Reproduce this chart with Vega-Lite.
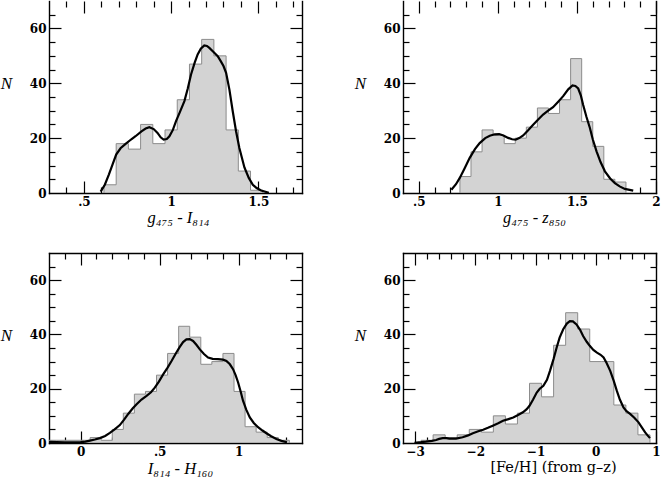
{
  "$schema": "https://vega.github.io/schema/vega-lite/v6.json",
  "padding": {"left": 0, "top": 0, "right": 0, "bottom": 0},
  "background": "white",
  "bounds": "flush",
  "columns": 2,
  "spacing": {"row": 60, "column": 101},
  "datasets": {
    "h1": [
      {"lo": 0.615, "hi": 0.685, "n": 3}, {"lo": 0.685, "hi": 0.755, "n": 18}, {"lo": 0.755, "hi": 0.825, "n": 16},
      {"lo": 0.825, "hi": 0.895, "n": 25}, {"lo": 0.895, "hi": 0.965, "n": 18}, {"lo": 0.965, "hi": 1.035, "n": 23},
      {"lo": 1.035, "hi": 1.105, "n": 34}, {"lo": 1.105, "hi": 1.175, "n": 47}, {"lo": 1.175, "hi": 1.245, "n": 56},
      {"lo": 1.245, "hi": 1.315, "n": 50}, {"lo": 1.315, "hi": 1.385, "n": 23}, {"lo": 1.385, "hi": 1.455, "n": 8},
      {"lo": 1.455, "hi": 1.525, "n": 1}
    ],
    "h2": [
      {"lo": 0.76, "hi": 0.83, "n": 6}, {"lo": 0.83, "hi": 0.9, "n": 15}, {"lo": 0.9, "hi": 0.97, "n": 23},
      {"lo": 0.97, "hi": 1.04, "n": 21}, {"lo": 1.04, "hi": 1.11, "n": 18}, {"lo": 1.11, "hi": 1.18, "n": 20},
      {"lo": 1.18, "hi": 1.25, "n": 24}, {"lo": 1.25, "hi": 1.32, "n": 31}, {"lo": 1.32, "hi": 1.39, "n": 29},
      {"lo": 1.39, "hi": 1.46, "n": 34}, {"lo": 1.46, "hi": 1.53, "n": 49}, {"lo": 1.53, "hi": 1.6, "n": 26},
      {"lo": 1.6, "hi": 1.67, "n": 17}, {"lo": 1.67, "hi": 1.74, "n": 5}, {"lo": 1.74, "hi": 1.81, "n": 4}
    ],
    "h3": [
      {"lo": -0.22, "hi": -0.15, "n": 1}, {"lo": -0.15, "hi": -0.08, "n": 1}, {"lo": -0.08, "hi": -0.01, "n": 1},
      {"lo": -0.01, "hi": 0.06, "n": 1}, {"lo": 0.06, "hi": 0.13, "n": 2}, {"lo": 0.13, "hi": 0.2, "n": 1},
      {"lo": 0.2, "hi": 0.27, "n": 5}, {"lo": 0.27, "hi": 0.34, "n": 11}, {"lo": 0.34, "hi": 0.41, "n": 18},
      {"lo": 0.41, "hi": 0.48, "n": 19}, {"lo": 0.48, "hi": 0.55, "n": 25}, {"lo": 0.55, "hi": 0.62, "n": 33},
      {"lo": 0.62, "hi": 0.69, "n": 43}, {"lo": 0.69, "hi": 0.76, "n": 39}, {"lo": 0.76, "hi": 0.83, "n": 29},
      {"lo": 0.83, "hi": 0.9, "n": 30}, {"lo": 0.9, "hi": 0.97, "n": 33}, {"lo": 0.97, "hi": 1.04, "n": 19},
      {"lo": 1.04, "hi": 1.11, "n": 6}, {"lo": 1.11, "hi": 1.18, "n": 4}, {"lo": 1.18, "hi": 1.25, "n": 2},
      {"lo": 1.25, "hi": 1.32, "n": 1}
    ],
    "h4": [
      {"lo": -2.9, "hi": -2.7, "n": 1}, {"lo": -2.7, "hi": -2.5, "n": 3}, {"lo": -2.5, "hi": -2.3, "n": 2},
      {"lo": -2.3, "hi": -2.1, "n": 3}, {"lo": -2.1, "hi": -1.9, "n": 5}, {"lo": -1.9, "hi": -1.7, "n": 4},
      {"lo": -1.7, "hi": -1.5, "n": 10}, {"lo": -1.5, "hi": -1.3, "n": 7}, {"lo": -1.3, "hi": -1.1, "n": 11},
      {"lo": -1.1, "hi": -0.9, "n": 22}, {"lo": -0.9, "hi": -0.7, "n": 17}, {"lo": -0.7, "hi": -0.5, "n": 36},
      {"lo": -0.5, "hi": -0.3, "n": 48}, {"lo": -0.3, "hi": -0.1, "n": 42}, {"lo": -0.1, "hi": 0.1, "n": 30},
      {"lo": 0.1, "hi": 0.3, "n": 30}, {"lo": 0.3, "hi": 0.5, "n": 14}, {"lo": 0.5, "hi": 0.7, "n": 11},
      {"lo": 0.7, "hi": 0.9, "n": 3}
    ],
    "k1": [
      {"x": 0.596, "y": 0.5}, {"x": 0.62, "y": 3}, {"x": 0.643, "y": 6.7}, {"x": 0.665, "y": 10.5}, {"x": 0.685, "y": 14},
      {"x": 0.71, "y": 16.3}, {"x": 0.739, "y": 17.9}, {"x": 0.77, "y": 19.5}, {"x": 0.796, "y": 20.7}, {"x": 0.83, "y": 22.5},
      {"x": 0.854, "y": 23.5}, {"x": 0.875, "y": 24}, {"x": 0.9, "y": 23.3}, {"x": 0.922, "y": 21.9}, {"x": 0.94, "y": 20.3},
      {"x": 0.957, "y": 19.5}, {"x": 0.975, "y": 19.7}, {"x": 0.99, "y": 20.7}, {"x": 1.01, "y": 23}, {"x": 1.028, "y": 26.2},
      {"x": 1.05, "y": 29.5}, {"x": 1.076, "y": 33.5}, {"x": 1.095, "y": 38}, {"x": 1.114, "y": 43.2}, {"x": 1.135, "y": 47.5},
      {"x": 1.152, "y": 50.5}, {"x": 1.17, "y": 52.6}, {"x": 1.19, "y": 53.8}, {"x": 1.205, "y": 53.6}, {"x": 1.219, "y": 52.9},
      {"x": 1.24, "y": 51.6}, {"x": 1.267, "y": 49.9}, {"x": 1.285, "y": 48}, {"x": 1.3, "y": 46.3}, {"x": 1.315, "y": 43.8},
      {"x": 1.334, "y": 37.7}, {"x": 1.353, "y": 29.8}, {"x": 1.372, "y": 22.5}, {"x": 1.391, "y": 16.4}, {"x": 1.42, "y": 9.3},
      {"x": 1.445, "y": 5.5}, {"x": 1.468, "y": 3}, {"x": 1.49, "y": 1.8}, {"x": 1.516, "y": 0.9}, {"x": 1.56, "y": 0.1}
    ],
    "k2": [
      {"x": 0.706, "y": 1.2}, {"x": 0.735, "y": 3.2}, {"x": 0.759, "y": 5.5}, {"x": 0.79, "y": 9}, {"x": 0.822, "y": 12.8},
      {"x": 0.855, "y": 16}, {"x": 0.885, "y": 18.2}, {"x": 0.92, "y": 20}, {"x": 0.949, "y": 20.9}, {"x": 0.98, "y": 21.4},
      {"x": 1.008, "y": 21.5}, {"x": 1.035, "y": 21}, {"x": 1.065, "y": 20.1}, {"x": 1.09, "y": 19.6}, {"x": 1.113, "y": 19.5},
      {"x": 1.135, "y": 20}, {"x": 1.16, "y": 21}, {"x": 1.19, "y": 22.8}, {"x": 1.223, "y": 24.9}, {"x": 1.255, "y": 26.8},
      {"x": 1.286, "y": 28.6}, {"x": 1.318, "y": 30}, {"x": 1.349, "y": 31.3}, {"x": 1.38, "y": 33.2}, {"x": 1.413, "y": 35.3},
      {"x": 1.445, "y": 37.8}, {"x": 1.472, "y": 39.2}, {"x": 1.49, "y": 39}, {"x": 1.508, "y": 38.1}, {"x": 1.525, "y": 35.5},
      {"x": 1.539, "y": 32.2}, {"x": 1.56, "y": 27.8}, {"x": 1.582, "y": 23.7}, {"x": 1.6, "y": 19.6}, {"x": 1.624, "y": 15.2},
      {"x": 1.65, "y": 11.2}, {"x": 1.677, "y": 7.9}, {"x": 1.71, "y": 5.3}, {"x": 1.74, "y": 3.6}, {"x": 1.77, "y": 2.4},
      {"x": 1.803, "y": 1.5}, {"x": 1.856, "y": 0.85}
    ],
    "k3": [
      {"x": -0.2, "y": 0.4}, {"x": -0.15, "y": 0.3}, {"x": -0.1, "y": 0.25}, {"x": -0.05, "y": 0.2}, {"x": 0, "y": 0.3},
      {"x": 0.03, "y": 0.5}, {"x": 0.059, "y": 0.9}, {"x": 0.09, "y": 1.3}, {"x": 0.122, "y": 1.8}, {"x": 0.155, "y": 2.6},
      {"x": 0.185, "y": 3.7}, {"x": 0.215, "y": 5}, {"x": 0.248, "y": 6.6}, {"x": 0.275, "y": 8.6}, {"x": 0.301, "y": 10.7},
      {"x": 0.33, "y": 12.8}, {"x": 0.354, "y": 14.3}, {"x": 0.385, "y": 16}, {"x": 0.417, "y": 17.4}, {"x": 0.445, "y": 18.7},
      {"x": 0.469, "y": 20.4}, {"x": 0.495, "y": 22.6}, {"x": 0.522, "y": 25.3}, {"x": 0.55, "y": 27.8}, {"x": 0.575, "y": 30.2},
      {"x": 0.6, "y": 32.8}, {"x": 0.627, "y": 35.4}, {"x": 0.648, "y": 37.2}, {"x": 0.669, "y": 38.2}, {"x": 0.69, "y": 38.3},
      {"x": 0.711, "y": 37.6}, {"x": 0.732, "y": 36.2}, {"x": 0.754, "y": 34.5}, {"x": 0.78, "y": 32.8}, {"x": 0.806, "y": 31.5},
      {"x": 0.835, "y": 31}, {"x": 0.869, "y": 30.9}, {"x": 0.9, "y": 30.7}, {"x": 0.922, "y": 30.2}, {"x": 0.944, "y": 29},
      {"x": 0.964, "y": 27.2}, {"x": 0.98, "y": 25}, {"x": 0.996, "y": 22.3}, {"x": 1.012, "y": 19}, {"x": 1.027, "y": 15.6},
      {"x": 1.048, "y": 12.2}, {"x": 1.07, "y": 9.4}, {"x": 1.095, "y": 7.4}, {"x": 1.122, "y": 5.8}, {"x": 1.15, "y": 4.6},
      {"x": 1.175, "y": 3.6}, {"x": 1.205, "y": 2.5}, {"x": 1.238, "y": 1.5}, {"x": 1.27, "y": 0.8}, {"x": 1.305, "y": 0.25}
    ],
    "k4": [
      {"x": -3.01, "y": 0.1}, {"x": -2.9, "y": 0.3}, {"x": -2.82, "y": 0.5}, {"x": -2.72, "y": 0.8}, {"x": -2.65, "y": 1.1},
      {"x": -2.6, "y": 1.5}, {"x": -2.54, "y": 1.8}, {"x": -2.48, "y": 1.8}, {"x": -2.43, "y": 1.6}, {"x": -2.32, "y": 1.6},
      {"x": -2.21, "y": 2.1}, {"x": -2.12, "y": 2.8}, {"x": -2.04, "y": 3.6}, {"x": -1.95, "y": 4.3}, {"x": -1.87, "y": 4.9},
      {"x": -1.79, "y": 5.6}, {"x": -1.71, "y": 6.4}, {"x": -1.62, "y": 7.3}, {"x": -1.54, "y": 8.2}, {"x": -1.45, "y": 8.8},
      {"x": -1.37, "y": 9.4}, {"x": -1.29, "y": 10.3}, {"x": -1.21, "y": 11.3}, {"x": -1.15, "y": 12.4}, {"x": -1.1, "y": 13.7},
      {"x": -1.04, "y": 16}, {"x": -0.98, "y": 18.6}, {"x": -0.93, "y": 20}, {"x": -0.87, "y": 21.1}, {"x": -0.81, "y": 23.3},
      {"x": -0.76, "y": 26.6}, {"x": -0.7, "y": 31}, {"x": -0.65, "y": 35.1}, {"x": -0.6, "y": 38.8}, {"x": -0.54, "y": 41.9},
      {"x": -0.48, "y": 44}, {"x": -0.43, "y": 44.9}, {"x": -0.38, "y": 44.8}, {"x": -0.32, "y": 43.7}, {"x": -0.26, "y": 41.7},
      {"x": -0.21, "y": 39.4}, {"x": -0.15, "y": 37.3}, {"x": -0.1, "y": 35.8}, {"x": -0.04, "y": 34.3}, {"x": 0.02, "y": 33.3},
      {"x": 0.08, "y": 32.5}, {"x": 0.13, "y": 31.5}, {"x": 0.18, "y": 29.5}, {"x": 0.24, "y": 26.6}, {"x": 0.3, "y": 22.8},
      {"x": 0.35, "y": 19.2}, {"x": 0.4, "y": 16}, {"x": 0.46, "y": 13.1}, {"x": 0.51, "y": 11.7}, {"x": 0.57, "y": 10.7},
      {"x": 0.64, "y": 9.3}, {"x": 0.71, "y": 7.6}, {"x": 0.77, "y": 5.6}, {"x": 0.82, "y": 3.9}, {"x": 0.86, "y": 2.8},
      {"x": 0.9, "y": 1.8}
    ]
  },
  "concat": [
    {
      "width": 253, "height": 192,
      "layer": [
        {"data": {"name": "h1"}, "transform": [{"fold": ["lo", "hi"], "as": ["edge", "xv"]}],
         "mark": {"type": "area", "fill": "#d3d3d3", "stroke": "#8c8c8c", "strokeWidth": 1, "clip": true},
         "encoding": {
           "x": {"field": "xv", "type": "quantitative", "scale": {"domain": [0.3, 1.75], "nice": false, "zero": false},
                 "axis": {"orient": "bottom", "values": [0.5, 1, 1.5], "format": "~g", "labels": true, "ticks": false, "tickSize": 0, "domain": true, "labelExpr": "datum.value == 0.5 ? '.5' : datum.label", "title": "g₄₇₅ - I₈₁₄", "titleX": 129, "titleY": 29, "titleAlign": "center", "titleBaseline": "alphabetic"}},
           "y": {"field": "n", "type": "quantitative", "stack": null, "scale": {"domain": [0, 70], "nice": false},
                 "axis": {"orient": "left", "values": [0, 20, 40, 60], "labels": true, "ticks": false, "tickSize": 0, "domain": true, "title": "N", "titleAngle": 0, "titleX": -43, "titleY": 82, "titleAlign": "center", "titleBaseline": "middle", "titleFontSize": 17}}
         }},
        {"data": {"name": "k1"}, "mark": {"type": "line", "stroke": "#000", "strokeWidth": 2.2, "clip": true},
         "encoding": {
           "x": {"field": "x", "type": "quantitative", "scale": {"domain": [0.3, 1.75], "nice": false, "zero": false}, "axis": {"orient": "bottom", "values": [0.5, 1, 1.5], "tickSize": -12, "title": null}},
           "y": {"field": "y", "type": "quantitative", "scale": {"domain": [0, 70], "nice": false}, "axis": {"orient": "left", "values": [20, 40, 60], "tickSize": -12, "title": null}}
         }},
        {"data": {"name": "k1"}, "mark": {"type": "point", "opacity": 0},
         "encoding": {
           "x": {"field": "x", "type": "quantitative", "scale": {"domain": [0.3, 1.75], "nice": false, "zero": false}, "axis": {"orient": "bottom", "values": [0.4, 0.6, 0.7, 0.8, 0.9, 1.1, 1.2, 1.3, 1.4, 1.6, 1.7], "tickSize": -6, "title": null}},
           "y": {"field": "y", "type": "quantitative", "scale": {"domain": [0, 70], "nice": false}, "axis": {"orient": "left", "values": [5, 10, 15, 25, 30, 35, 45, 50, 55, 65], "tickSize": -6, "title": null}}
         }},
        {"data": {"name": "k1"}, "mark": {"type": "point", "opacity": 0},
         "encoding": {
           "x": {"field": "x", "type": "quantitative", "scale": {"domain": [0.3, 1.75], "nice": false, "zero": false}, "axis": {"orient": "top", "values": [0.5, 1, 1.5], "tickSize": -12, "title": null}},
           "y": {"field": "y", "type": "quantitative", "scale": {"domain": [0, 70], "nice": false}, "axis": {"orient": "right", "values": [20, 40, 60], "tickSize": -12, "domain": true, "title": null}}
         }},
        {"data": {"name": "k1"}, "mark": {"type": "point", "opacity": 0},
         "encoding": {
           "x": {"field": "x", "type": "quantitative", "scale": {"domain": [0.3, 1.75], "nice": false, "zero": false}, "axis": {"orient": "top", "values": [0.4, 0.6, 0.7, 0.8, 0.9, 1.1, 1.2, 1.3, 1.4, 1.6, 1.7], "tickSize": -6, "title": null}},
           "y": {"field": "y", "type": "quantitative", "scale": {"domain": [0, 70], "nice": false}, "axis": {"orient": "right", "values": [5, 10, 15, 25, 30, 35, 45, 50, 55, 65], "tickSize": -6, "title": null}}
         }}
      ],
      "resolve": {"axis": {"x": "independent", "y": "independent"}}
    },
    {
      "width": 253, "height": 192,
      "layer": [
        {"data": {"name": "h2"}, "transform": [{"fold": ["lo", "hi"], "as": ["edge", "xv"]}],
         "mark": {"type": "area", "fill": "#d3d3d3", "stroke": "#8c8c8c", "strokeWidth": 1, "clip": true},
         "encoding": {
           "x": {"field": "xv", "type": "quantitative", "scale": {"domain": [0.4, 2], "nice": false, "zero": false},
                 "axis": {"orient": "bottom", "values": [0.5, 1, 1.5, 2], "format": "~g", "labels": true, "ticks": false, "tickSize": 0, "domain": true, "labelExpr": "datum.value == 0.5 ? '.5' : datum.label", "title": "g₄₇₅ - z₈₅₀", "titleX": 131, "titleY": 29, "titleAlign": "center", "titleBaseline": "alphabetic"}},
           "y": {"field": "n", "type": "quantitative", "stack": null, "scale": {"domain": [0, 70], "nice": false},
                 "axis": {"orient": "left", "values": [0, 20, 40, 60], "labels": true, "ticks": false, "tickSize": 0, "domain": true, "title": "N", "titleAngle": 0, "titleX": -43, "titleY": 82, "titleAlign": "center", "titleBaseline": "middle", "titleFontSize": 17}}
         }},
        {"data": {"name": "k2"}, "mark": {"type": "line", "stroke": "#000", "strokeWidth": 2.2, "clip": true},
         "encoding": {
           "x": {"field": "x", "type": "quantitative", "scale": {"domain": [0.4, 2], "nice": false, "zero": false}, "axis": {"orient": "bottom", "values": [0.5, 1, 1.5, 2], "tickSize": -12, "title": null}},
           "y": {"field": "y", "type": "quantitative", "scale": {"domain": [0, 70], "nice": false}, "axis": {"orient": "left", "values": [20, 40, 60], "tickSize": -12, "title": null}}
         }},
        {"data": {"name": "k2"}, "mark": {"type": "point", "opacity": 0},
         "encoding": {
           "x": {"field": "x", "type": "quantitative", "scale": {"domain": [0.4, 2], "nice": false, "zero": false}, "axis": {"orient": "bottom", "values": [0.6, 0.7, 0.8, 0.9, 1.1, 1.2, 1.3, 1.4, 1.6, 1.7, 1.8, 1.9], "tickSize": -6, "title": null}},
           "y": {"field": "y", "type": "quantitative", "scale": {"domain": [0, 70], "nice": false}, "axis": {"orient": "left", "values": [5, 10, 15, 25, 30, 35, 45, 50, 55, 65], "tickSize": -6, "title": null}}
         }},
        {"data": {"name": "k2"}, "mark": {"type": "point", "opacity": 0},
         "encoding": {
           "x": {"field": "x", "type": "quantitative", "scale": {"domain": [0.4, 2], "nice": false, "zero": false}, "axis": {"orient": "top", "values": [0.5, 1, 1.5, 2], "tickSize": -12, "title": null}},
           "y": {"field": "y", "type": "quantitative", "scale": {"domain": [0, 70], "nice": false}, "axis": {"orient": "right", "values": [20, 40, 60], "tickSize": -12, "domain": true, "title": null}}
         }},
        {"data": {"name": "k2"}, "mark": {"type": "point", "opacity": 0},
         "encoding": {
           "x": {"field": "x", "type": "quantitative", "scale": {"domain": [0.4, 2], "nice": false, "zero": false}, "axis": {"orient": "top", "values": [0.6, 0.7, 0.8, 0.9, 1.1, 1.2, 1.3, 1.4, 1.6, 1.7, 1.8, 1.9], "tickSize": -6, "title": null}},
           "y": {"field": "y", "type": "quantitative", "scale": {"domain": [0, 70], "nice": false}, "axis": {"orient": "right", "values": [5, 10, 15, 25, 30, 35, 45, 50, 55, 65], "tickSize": -6, "title": null}}
         }}
      ],
      "resolve": {"axis": {"x": "independent", "y": "independent"}}
    },
    {
      "width": 253, "height": 190,
      "layer": [
        {"data": {"name": "h3"}, "transform": [{"fold": ["lo", "hi"], "as": ["edge", "xv"]}],
         "mark": {"type": "area", "fill": "#d3d3d3", "stroke": "#8c8c8c", "strokeWidth": 1, "clip": true},
         "encoding": {
           "x": {"field": "xv", "type": "quantitative", "scale": {"domain": [-0.2, 1.4], "nice": false, "zero": false},
                 "axis": {"orient": "bottom", "values": [0, 0.5, 1], "format": "~g", "labels": true, "ticks": false, "tickSize": 0, "domain": true, "labelExpr": "datum.value == 0.5 ? '.5' : datum.label", "title": "I₈₁₄ - H₁₆₀", "titleX": 131, "titleY": 30, "titleAlign": "center", "titleBaseline": "alphabetic"}},
           "y": {"field": "n", "type": "quantitative", "stack": null, "scale": {"domain": [0, 70], "nice": false},
                 "axis": {"orient": "left", "values": [0, 20, 40, 60], "labels": true, "ticks": false, "tickSize": 0, "domain": true, "title": "N", "titleAngle": 0, "titleX": -43, "titleY": 82, "titleAlign": "center", "titleBaseline": "middle", "titleFontSize": 17}}
         }},
        {"data": {"name": "k3"}, "mark": {"type": "line", "stroke": "#000", "strokeWidth": 2.2, "clip": true},
         "encoding": {
           "x": {"field": "x", "type": "quantitative", "scale": {"domain": [-0.2, 1.4], "nice": false, "zero": false}, "axis": {"orient": "bottom", "values": [0, 0.5, 1], "tickSize": -12, "title": null}},
           "y": {"field": "y", "type": "quantitative", "scale": {"domain": [0, 70], "nice": false}, "axis": {"orient": "left", "values": [20, 40, 60], "tickSize": -12, "title": null}}
         }},
        {"data": {"name": "k3"}, "mark": {"type": "point", "opacity": 0},
         "encoding": {
           "x": {"field": "x", "type": "quantitative", "scale": {"domain": [-0.2, 1.4], "nice": false, "zero": false}, "axis": {"orient": "bottom", "values": [-0.1, 0.1, 0.2, 0.3, 0.4, 0.6, 0.7, 0.8, 0.9, 1.1, 1.2, 1.3], "tickSize": -6, "title": null}},
           "y": {"field": "y", "type": "quantitative", "scale": {"domain": [0, 70], "nice": false}, "axis": {"orient": "left", "values": [5, 10, 15, 25, 30, 35, 45, 50, 55, 65], "tickSize": -6, "title": null}}
         }},
        {"data": {"name": "k3"}, "mark": {"type": "point", "opacity": 0},
         "encoding": {
           "x": {"field": "x", "type": "quantitative", "scale": {"domain": [-0.2, 1.4], "nice": false, "zero": false}, "axis": {"orient": "top", "values": [0, 0.5, 1], "tickSize": -12, "domain": true, "title": null}},
           "y": {"field": "y", "type": "quantitative", "scale": {"domain": [0, 70], "nice": false}, "axis": {"orient": "right", "values": [20, 40, 60], "tickSize": -12, "domain": true, "title": null}}
         }},
        {"data": {"name": "k3"}, "mark": {"type": "point", "opacity": 0},
         "encoding": {
           "x": {"field": "x", "type": "quantitative", "scale": {"domain": [-0.2, 1.4], "nice": false, "zero": false}, "axis": {"orient": "top", "values": [-0.1, 0.1, 0.2, 0.3, 0.4, 0.6, 0.7, 0.8, 0.9, 1.1, 1.2, 1.3], "tickSize": -6, "title": null}},
           "y": {"field": "y", "type": "quantitative", "scale": {"domain": [0, 70], "nice": false}, "axis": {"orient": "right", "values": [5, 10, 15, 25, 30, 35, 45, 50, 55, 65], "tickSize": -6, "title": null}}
         }}
      ],
      "resolve": {"axis": {"x": "independent", "y": "independent"}}
    },
    {
      "width": 253, "height": 190,
      "layer": [
        {"data": {"name": "h4"}, "transform": [{"fold": ["lo", "hi"], "as": ["edge", "xv"]}],
         "mark": {"type": "area", "fill": "#d3d3d3", "stroke": "#8c8c8c", "strokeWidth": 1, "clip": true},
         "encoding": {
           "x": {"field": "xv", "type": "quantitative", "scale": {"domain": [-3.2, 1], "nice": false, "zero": false},
                 "axis": {"orient": "bottom", "values": [-3, -2, -1, 0, 1], "format": "~g", "labels": true, "ticks": false, "tickSize": 0, "domain": true, "title": "[Fe/H] (from g–z)", "titleFont": "DejaVu Serif", "titleFontSize": 14.5, "titleFontStyle": "normal", "titleX": 150, "titleY": 28, "titleAlign": "center", "titleBaseline": "alphabetic"}},
           "y": {"field": "n", "type": "quantitative", "stack": null, "scale": {"domain": [0, 70], "nice": false},
                 "axis": {"orient": "left", "values": [0, 20, 40, 60], "labels": true, "ticks": false, "tickSize": 0, "domain": true, "title": "N", "titleAngle": 0, "titleX": -43, "titleY": 82, "titleAlign": "center", "titleBaseline": "middle", "titleFontSize": 17}}
         }},
        {"data": {"name": "k4"}, "mark": {"type": "line", "stroke": "#000", "strokeWidth": 2.2, "clip": true},
         "encoding": {
           "x": {"field": "x", "type": "quantitative", "scale": {"domain": [-3.2, 1], "nice": false, "zero": false}, "axis": {"orient": "bottom", "values": [-3, -2, -1, 0, 1], "tickSize": -12, "title": null}},
           "y": {"field": "y", "type": "quantitative", "scale": {"domain": [0, 70], "nice": false}, "axis": {"orient": "left", "values": [20, 40, 60], "tickSize": -12, "title": null}}
         }},
        {"data": {"name": "k4"}, "mark": {"type": "point", "opacity": 0},
         "encoding": {
           "x": {"field": "x", "type": "quantitative", "scale": {"domain": [-3.2, 1], "nice": false, "zero": false}, "axis": {"orient": "bottom", "values": [-2.8, -2.6, -2.4, -2.2, -1.8, -1.6, -1.4, -1.2, -0.8, -0.6, -0.4, -0.2, 0.2, 0.4, 0.6, 0.8], "tickSize": -6, "title": null}},
           "y": {"field": "y", "type": "quantitative", "scale": {"domain": [0, 70], "nice": false}, "axis": {"orient": "left", "values": [5, 10, 15, 25, 30, 35, 45, 50, 55, 65], "tickSize": -6, "title": null}}
         }},
        {"data": {"name": "k4"}, "mark": {"type": "point", "opacity": 0},
         "encoding": {
           "x": {"field": "x", "type": "quantitative", "scale": {"domain": [-3.2, 1], "nice": false, "zero": false}, "axis": {"orient": "top", "values": [-3, -2, -1, 0, 1], "tickSize": -12, "domain": true, "title": null}},
           "y": {"field": "y", "type": "quantitative", "scale": {"domain": [0, 70], "nice": false}, "axis": {"orient": "right", "values": [20, 40, 60], "tickSize": -12, "domain": true, "title": null}}
         }},
        {"data": {"name": "k4"}, "mark": {"type": "point", "opacity": 0},
         "encoding": {
           "x": {"field": "x", "type": "quantitative", "scale": {"domain": [-3.2, 1], "nice": false, "zero": false}, "axis": {"orient": "top", "values": [-2.8, -2.6, -2.4, -2.2, -1.8, -1.6, -1.4, -1.2, -0.8, -0.6, -0.4, -0.2, 0.2, 0.4, 0.6, 0.8], "tickSize": -6, "title": null}},
           "y": {"field": "y", "type": "quantitative", "scale": {"domain": [0, 70], "nice": false}, "axis": {"orient": "right", "values": [5, 10, 15, 25, 30, 35, 45, 50, 55, 65], "tickSize": -6, "title": null}}
         }}
      ],
      "resolve": {"axis": {"x": "independent", "y": "independent"}}
    }
  ],
  "config": {
    "view": {"stroke": null},
    "axis": {
      "grid": false, "domain": false, "labels": false, "ticks": true,
      "tickColor": "#000", "tickWidth": 1.2,
      "domainColor": "#000", "domainWidth": 1.4, "domainCap": "square",
      "zindex": 1,
      "labelFont": "DejaVu Serif", "labelFontWeight": 700, "labelFontSize": 12, "labelColor": "#000",
      "labelPadding": 3, "labelFlush": false, "labelOverlap": false,
      "titleColor": "#000", "titleFont": "Liberation Serif", "titleFontWeight": "normal",
      "titleFontSize": 16.5, "titleFontStyle": "italic"
    }
  }
}
